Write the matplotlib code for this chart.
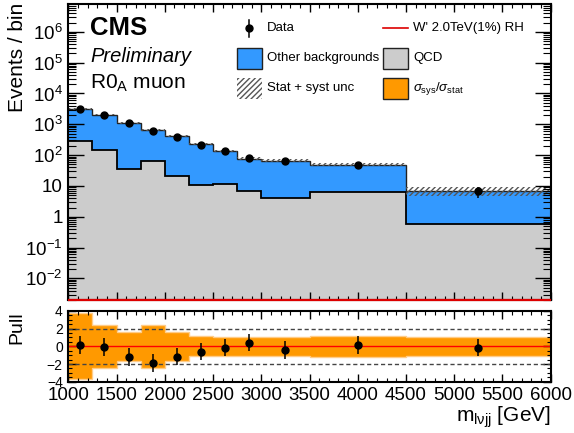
import numpy as np
import matplotlib
matplotlib.use('Agg')
import matplotlib.pyplot as plt
from matplotlib.ticker import LogLocator, FixedLocator, MultipleLocator, FuncFormatter, NullFormatter
from matplotlib.patches import Rectangle
from matplotlib.lines import Line2D

plt.rcParams['font.family'] = ['Liberation Sans', 'DejaVu Sans']
plt.rcParams['mathtext.fontset'] = 'custom'
plt.rcParams['mathtext.rm'] = 'Liberation Sans'
plt.rcParams['mathtext.it'] = 'Liberation Sans:italic'
plt.rcParams['mathtext.bf'] = 'Liberation Sans:bold'
plt.rcParams['hatch.linewidth'] = 1.0

# bin edges in m_lvjj [GeV]
edges = [1000, 1250, 1500, 1750, 2000, 2250, 2500, 2750, 3000, 3500, 4500, 6000]
centers = [1125, 1375, 1625, 1875, 2125, 2375, 2625, 2875, 3250, 4000, 5250]

# stacked backgrounds (events / bin)
qcd = [277, 148, 36, 66, 21.6, 10.8, 11.2, 7.0, 4.1, 6.2, 0.58]
total_bkg = [3160, 2070, 1110, 675, 410, 226, 137, 77, 66, 49, 7.0]
rel_unc = [0.06, 0.06, 0.07, 0.07, 0.08, 0.08, 0.09, 0.1, 0.1, 0.1, 0.34]
data = [3160, 1970, 1087, 611, 390, 209, 137, 79, 63, 49, 6.7]
signal = [0, 0, 0, 0, 0, 0, 0, 0, 0, 0, 0]

# pull panel
pull = [0.16, -0.07, -1.24, -1.92, -1.16, -0.6, -0.15, 0.42, -0.39, 0.16, -0.15]
pull_err = [1, 1, 1, 1, 1, 1, 1, 1, 1, 1, 1]
sys_over_stat = [3.75, 2.45, 1.65, 2.45, 1.62, 1.13, 1.1, 1.05, 1.05, 1.2, 1.1]
pull_ticks = [-4, -2, 0, 2, 4]

blue = '#3399ff'
grey = '#cccccc'
orange = '#ff9900'

ymin, ymax = 0.002, 8e6

fig = plt.figure(figsize=(5.74, 4.33), dpi=100)
ax = fig.add_axes([0.119, 0.3072, 0.8404, 0.6836])
ax2 = fig.add_axes([0.119, 0.1185, 0.8404, 0.1633])

qcd_a = np.array(qcd)
tot_a = np.array(total_bkg)
unc_a = np.array(rel_unc)

# main panel
ax.stairs(qcd_a, edges, baseline=ymin, fill=True, color=grey, lw=0)
ax.stairs(tot_a, edges, baseline=qcd_a, fill=True, color=blue, lw=0)
ax.stairs(qcd_a, edges, baseline=None, color='black', lw=1.3)
ax.stairs(tot_a, edges, baseline=None, color='#222222', lw=1.0)
ax.stairs(tot_a * (1 + unc_a), edges, baseline=tot_a * (1 - unc_a), fill=True,
          facecolor='none', edgecolor='#555555', hatch='//////', lw=0)
ax.stairs(np.clip(signal, ymin, None), edges, baseline=None, color='#dd0000',
          lw=1.6, clip_on=False, zorder=4)
ax.errorbar(centers, data, yerr=np.sqrt(data), fmt='o', color='black',
            ms=5, elinewidth=1.1, capsize=0, zorder=5)

ax.set_yscale('log')
ax.set_xlim(edges[0], edges[-1])
ax.set_ylim(ymin, ymax)


def log_fmt(v, pos):
    e = int(round(np.log10(v)))
    if e == 0:
        return '1'
    if e == 1:
        return '10'
    return r'$10^{%d}$' % e


ax.yaxis.set_major_locator(LogLocator(base=10, numticks=20))
ax.yaxis.set_minor_locator(LogLocator(base=10, subs=np.arange(2, 10), numticks=200))
ax.yaxis.set_major_formatter(FuncFormatter(log_fmt))
ax.yaxis.set_minor_formatter(NullFormatter())
ax.xaxis.set_major_locator(MultipleLocator(500))
ax.xaxis.set_minor_locator(MultipleLocator(100))
ax.tick_params(which='both', direction='in', top=True, right=True, labelbottom=False)
ax.tick_params(axis='y', which='major', length=11.5, width=1, labelsize=13.5, pad=4)
ax.tick_params(axis='y', which='minor', length=5.8, width=0.8)
ax.tick_params(axis='x', which='major', length=5.5, width=1)
ax.tick_params(axis='x', which='minor', length=3, width=0.8)
for s in ax.spines.values():
    s.set_linewidth(1.5)

ax.text(-0.106, 1.005, 'Events / bin', rotation=90, ha='right', va='center',
        rotation_mode='anchor', transform=ax.transAxes, fontsize=15)

ax.text(0.045, 0.894, 'CMS', fontsize=18.5, fontweight='bold', transform=ax.transAxes)
ax.text(0.045, 0.805, 'Preliminary', fontsize=14.5, style='italic', transform=ax.transAxes)
ax.text(0.045, 0.715, r'R0$_{\rm A}$ muon', fontsize=15, transform=ax.transAxes)

# legend drawn by hand, ROOT style
bw, bh = 0.052, 0.071
rows = [0.918, 0.816, 0.716]
c1x, c2x = 0.349, 0.652
lfs = 9.5
ax.add_line(Line2D([c1x + bw / 2] * 2, [rows[0] - 0.028, rows[0] + 0.028], color='black',
                   lw=1.1, transform=ax.transAxes))
ax.add_line(Line2D([c1x + bw / 2], [rows[0]], marker='o', ms=5, color='black',
                   transform=ax.transAxes))
ax.text(c1x + bw + 0.01, rows[0], 'Data', fontsize=lfs, va='center', transform=ax.transAxes)
ax.add_patch(Rectangle((c1x, rows[1] - bh / 2), bw, bh, facecolor=blue, edgecolor='#222222',
                       lw=1, transform=ax.transAxes))
ax.text(c1x + bw + 0.01, rows[1], 'Other backgrounds', fontsize=lfs, va='center',
        transform=ax.transAxes)
ax.add_patch(Rectangle((c1x, rows[2] - bh / 2), bw, bh, facecolor='none', edgecolor='#555555',
                       hatch='//////', lw=0, transform=ax.transAxes))
ax.text(c1x + bw + 0.01, rows[2], 'Stat + syst unc', fontsize=lfs, va='center',
        transform=ax.transAxes)
ax.add_line(Line2D([c2x, c2x + bw], [rows[0]] * 2, color='#dd0000', lw=1.2,
                   transform=ax.transAxes))
ax.text(c2x + bw + 0.011, rows[0], "W' 2.0TeV(1%) RH", fontsize=lfs, va='center',
        transform=ax.transAxes)
ax.add_patch(Rectangle((c2x, rows[1] - bh / 2), bw, bh, facecolor=grey, edgecolor='#222222',
                       lw=1, transform=ax.transAxes))
ax.text(c2x + bw + 0.011, rows[1], 'QCD', fontsize=lfs, va='center', transform=ax.transAxes)
ax.add_patch(Rectangle((c2x, rows[2] - bh / 2), bw, bh, facecolor=orange, edgecolor='#222222',
                       lw=1, transform=ax.transAxes))
ax.text(c2x + bw + 0.011, rows[2], r'$\sigma_{\rm sys}/\sigma_{\rm stat}$', fontsize=lfs,
        va='center', transform=ax.transAxes)

# pull panel
band = np.array(sys_over_stat)
ax2.stairs(band, edges, baseline=-band, fill=True, facecolor=orange,
           edgecolor='#ffcc88', lw=1)
ax2.axhline(0, color='red', lw=1)
ax2.axhline(2, color='#444444', lw=1, ls=(0, (3, 2)))
ax2.axhline(-2, color='#444444', lw=1, ls=(0, (3, 2)))
ax2.errorbar(centers, pull, yerr=pull_err, fmt='o', color='black', ms=5,
             elinewidth=1.1, capsize=0, zorder=5)
ax2.set_xlim(edges[0], edges[-1])
ax2.set_ylim(-4, 4)
ax2.yaxis.set_major_locator(FixedLocator(pull_ticks))
ax2.yaxis.set_minor_locator(MultipleLocator(0.5))
ax2.xaxis.set_major_locator(MultipleLocator(500))
ax2.xaxis.set_minor_locator(MultipleLocator(100))
ax2.tick_params(which='both', direction='in', top=True, right=True)
ax2.tick_params(which='major', length=5.5, width=1, labelsize=13.5, pad=4)
ax2.tick_params(axis='y', which='major', labelsize=10)
ax2.tick_params(which='minor', length=3, width=0.8)
for s in ax2.spines.values():
    s.set_linewidth(1.5)

ax2.text(-0.106, 1.0, 'Pull', rotation=90, ha='right', va='center',
         rotation_mode='anchor', transform=ax2.transAxes, fontsize=14)
ax2.text(1.0, -0.566, r'm$_{\rm l\nu jj}$ [GeV]', ha='right', va='baseline',
         transform=ax2.transAxes, fontsize=15)

fig.savefig('out.png', dpi=100)
